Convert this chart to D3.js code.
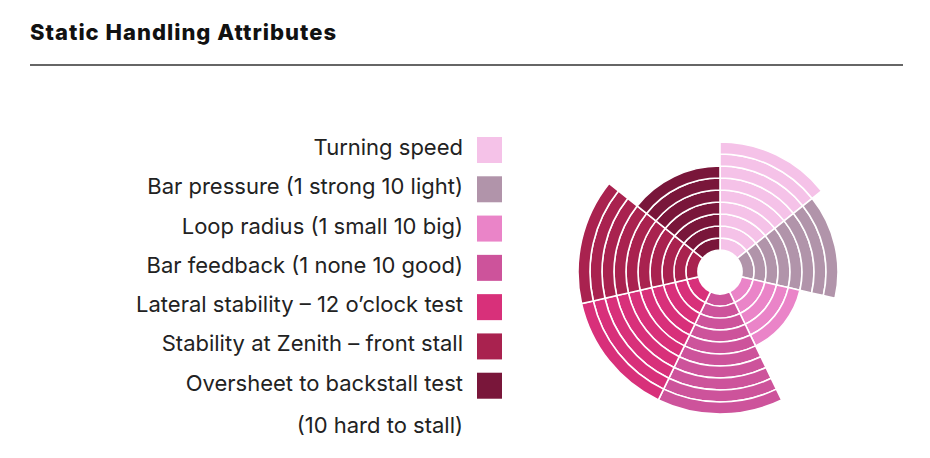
<!DOCTYPE html>
<html><head><meta charset="utf-8">
<script src="https://cdn.jsdelivr.net/npm/d3@7"></script>
<style>body{margin:0;background:#fff;} svg{display:block;}</style>
</head><body>
<svg id="chart" width="930" height="458"></svg>
<script>
const categories = [
  "Turning speed",
  "Bar pressure (1 strong 10 light)",
  "Loop radius (1 small 10 big)",
  "Bar feedback (1 none 10 good)",
  "Lateral stability \u2013 12 o\u2019clock test",
  "Stability at Zenith \u2013 front stall",
  "Oversheet to backstall test"
];
const values = [9, 8, 5, 10, 10, 10, 7];
const colors = ["#f5c2e8", "#b194aa", "#ea84c8", "#cd539b", "#d8307a", "#a9224f", "#79163a"];
const legendNote = "(10 hard to stall)";
const title = "Static Handling Attributes";
const maxValue = 10;

const svg = d3.select("#chart");
const font = "Inter, 'Open Sans', sans-serif";

svg.append("text").attr("x", 30).attr("y", 40)
  .attr("font-family", font).attr("font-weight", 800).attr("font-size", 22)
  .attr("letter-spacing", 1).attr("fill", "#111").text(title);
svg.append("line").attr("x1", 30).attr("x2", 903).attr("y1", 65).attr("y2", 65)
  .attr("stroke", "#333").attr("stroke-width", 1.5);

const cx = 720, cy = 272;
const r = d3.scaleLinear().domain([0, maxValue]).range([22, 142]);
const angle = d3.scaleBand().domain(categories).range([0, 2 * Math.PI]).padding(0);
const color = d3.scaleOrdinal().domain(categories).range(colors);

const g = svg.append("g").attr("transform", `translate(${cx},${cy})`);
const arc = d3.arc();
categories.forEach((c, i) => {
  const rings = d3.range(values[i]);
  g.selectAll(null).data(rings).enter().append("path")
    .attr("d", k => arc({innerRadius: r(k), outerRadius: r(k + 1),
      startAngle: angle(c), endAngle: angle(c) + angle.bandwidth()}))
    .attr("fill", color(c)).attr("stroke", "#fff").attr("stroke-width", 1.6);
});

const leg = svg.append("g");
const ly = d3.scalePoint().domain(d3.range(categories.length + 1)).range([150, 425]);
categories.forEach((c, i) => {
  leg.append("rect").attr("x", 477).attr("y", ly(i) - 13).attr("width", 25).attr("height", 26)
    .attr("fill", color(c));
  leg.append("text").attr("x", 463).attr("y", ly(i) + 5).attr("text-anchor", "end")
    .attr("font-family", font).attr("font-size", 22).attr("fill", "#222").text(c);
});
leg.append("text").attr("x", 463).attr("y", ly(categories.length) + 8).attr("text-anchor", "end")
  .attr("font-family", font).attr("font-size", 22).attr("fill", "#222").text(legendNote);
</script>
</body></html>
